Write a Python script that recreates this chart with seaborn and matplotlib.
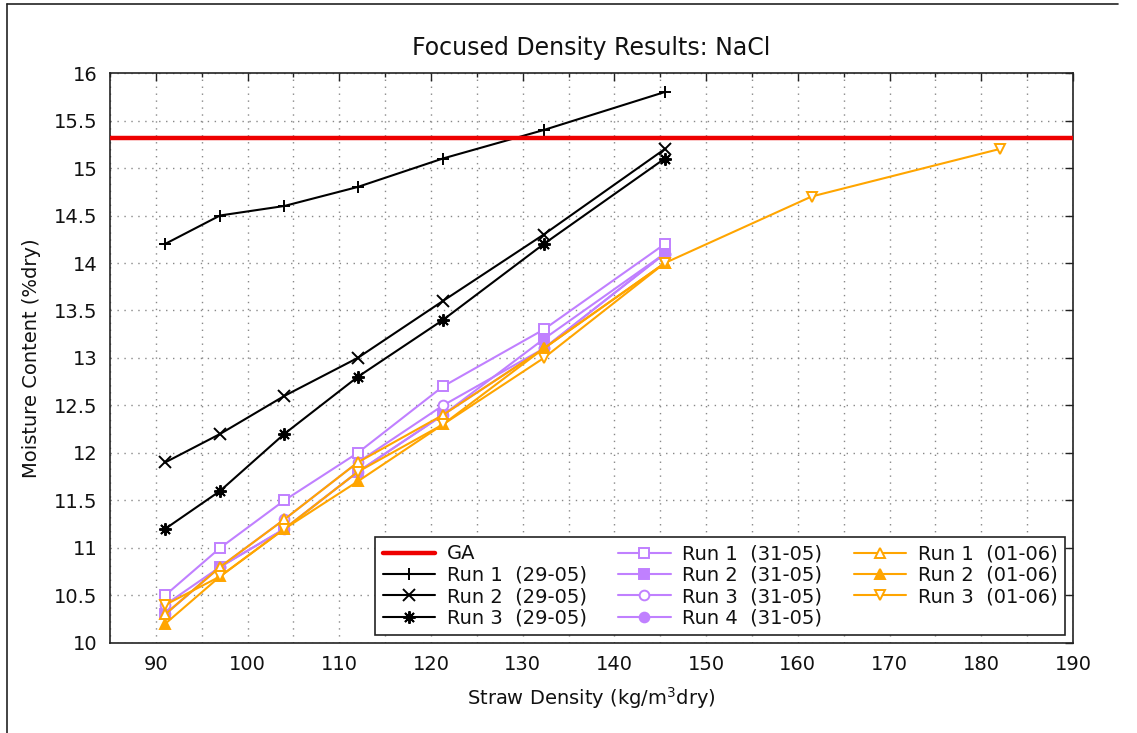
import numpy as np
import pandas as pd
import matplotlib
matplotlib.use("Agg")
import matplotlib.pyplot as plt
from matplotlib.lines import Line2D
import seaborn as sns

# Straw density (kg/m^3 dry) for the focused test points
density = [91, 97, 104, 112, 121.3, 132.3, 145.5]
density_ext = [91, 97, 104, 112, 121.3, 132.3, 145.5, 161.5, 182]

# Moisture content (% dry) per run
run1_2905 = [14.2, 14.5, 14.6, 14.8, 15.1, 15.4, 15.8]
run2_2905 = [11.9, 12.2, 12.6, 13.0, 13.6, 14.3, 15.2]
run3_2905 = [11.2, 11.6, 12.2, 12.8, 13.4, 14.2, 15.1]

run1_3105 = [10.5, 11.0, 11.5, 12.0, 12.7, 13.3, 14.2]
run2_3105 = [10.3, 10.8, 11.2, 11.8, 12.4, 13.2, 14.1]
run3_3105 = [10.4, 10.8, 11.3, 11.9, 12.5, 13.1, 14.1]
run4_3105 = [10.3, 10.8, 11.2, 11.8, 12.4, 13.1, 14.1]

run1_0106 = [10.3, 10.8, 11.3, 11.9, 12.4, 13.1, 14.0]
run2_0106 = [10.2, 10.7, 11.2, 11.7, 12.3, 13.1, 14.0]
run3_0106 = [10.4, 10.7, 11.2, 11.8, 12.3, 13.0, 14.0, 14.7, 15.2]

ga_level = 15.32

x_ticks = list(range(90, 191, 10))
y_ticks = [10, 10.5, 11, 11.5, 12, 12.5, 13, 13.5, 14, 14.5, 15, 15.5, 16]

sns.set_style("white")
plt.rcParams["font.family"] = ["DejaVu Sans"]
plt.rcParams["font.size"] = 14
plt.rcParams["text.color"] = "#111111"
plt.rcParams["axes.labelcolor"] = "#111111"
plt.rcParams["xtick.color"] = "#111111"
plt.rcParams["ytick.color"] = "#111111"

BLACK = "#000000"
PURPLE = "#c080ff"
ORANGE = "#ffa500"

fig = plt.figure(figsize=(11.37, 7.33), dpi=100)
ax = fig.add_axes([0.0967, 0.1228, 0.847, 0.7776])

series = [
    ("Run 1  (29-05)", density, run1_2905, BLACK, "+", True),
    ("Run 2  (29-05)", density, run2_2905, BLACK, "x", True),
    ("Run 3  (29-05)", density, run3_2905, BLACK, (8, 2, 0), True),
    ("Run 1  (31-05)", density, run1_3105, PURPLE, "s", False),
    ("Run 2  (31-05)", density, run2_3105, PURPLE, "s", True),
    ("Run 3  (31-05)", density, run3_3105, PURPLE, "o", False),
    ("Run 4  (31-05)", density, run4_3105, PURPLE, "o", True),
    ("Run 1  (01-06)", density, run1_0106, ORANGE, "^", False),
    ("Run 2  (01-06)", density, run2_0106, ORANGE, "^", True),
    ("Run 3  (01-06)", density_ext, run3_0106, ORANGE, "v", False),
]

handles = []
ax.axhline(ga_level, color="#ee0000", lw=3.2, zorder=4)
handles.append(Line2D([], [], color="#ee0000", lw=3.2, label="GA"))

for label, xs, ys, color, marker, filled in series:
    df = pd.DataFrame({"x": xs, "y": ys})
    msize = 9 if marker in ("+", "x", (8, 2, 0)) else 7
    sns.lineplot(
        data=df, x="x", y="y", ax=ax, color=color, lw=1.5,
        marker=marker, markersize=msize, markeredgewidth=1.4,
        markerfacecolor=color if filled else "white",
        markeredgecolor=color, sort=False, zorder=3,
    )
    handles.append(Line2D([], [], color=color, lw=1.5, marker=marker,
                          markersize=msize, markeredgewidth=1.4,
                          markerfacecolor=color if filled else "white",
                          markeredgecolor=color, label=label))

ax.set_xlim(85, 190)
ax.set_ylim(10, 16)
ax.set_xticks(x_ticks)
ax.set_xticks(np.arange(85, 190, 5), minor=True)
ax.set_yticks(y_ticks)
ax.set_yticklabels([f"{v:g}" for v in y_ticks])

ax.grid(True, which="both", axis="x", color="#888888", ls=(0, (1, 4)), lw=1)
ax.grid(True, which="major", axis="y", color="#888888", ls=(0, (1, 4)), lw=1)
ax.set_axisbelow(True)

ax.tick_params(which="major", direction="in", length=6, width=1, top=True,
               right=True, labelsize=14, pad=9, color="#222222")
ax.tick_params(which="minor", direction="in", length=3, width=1, top=True,
               right=True, color="#222222")
for s in ax.spines.values():
    s.set_color("#222222")
    s.set_linewidth(1.2)

ax.set_title("Focused Density Results: NaCl", fontsize=17, pad=13)
ax.set_xlabel("Straw Density (kg/m$^3$dry)", fontsize=14, labelpad=8)
ax.set_ylabel("Moisture Content (%dry)", fontsize=14, labelpad=9)

leg = ax.legend(handles=handles, ncol=3, loc="lower right", fontsize=14,
                frameon=True, fancybox=False, framealpha=1, edgecolor="#222222",
                handlelength=2.7, handletextpad=0.6, columnspacing=1.6,
                labelspacing=0.12, borderpad=0.4, borderaxespad=0.4)
leg.get_frame().set_linewidth(1.2)

# thin frame along the top and left edges of the figure
fig.add_artist(Line2D([0.006, 0.006], [0.0, 0.995], color="#222222", lw=1.2,
                      transform=fig.transFigure))
fig.add_artist(Line2D([0.006, 0.983], [0.995, 0.995], color="#222222", lw=1.2,
                      transform=fig.transFigure))

fig.savefig("out.png", dpi=100)
